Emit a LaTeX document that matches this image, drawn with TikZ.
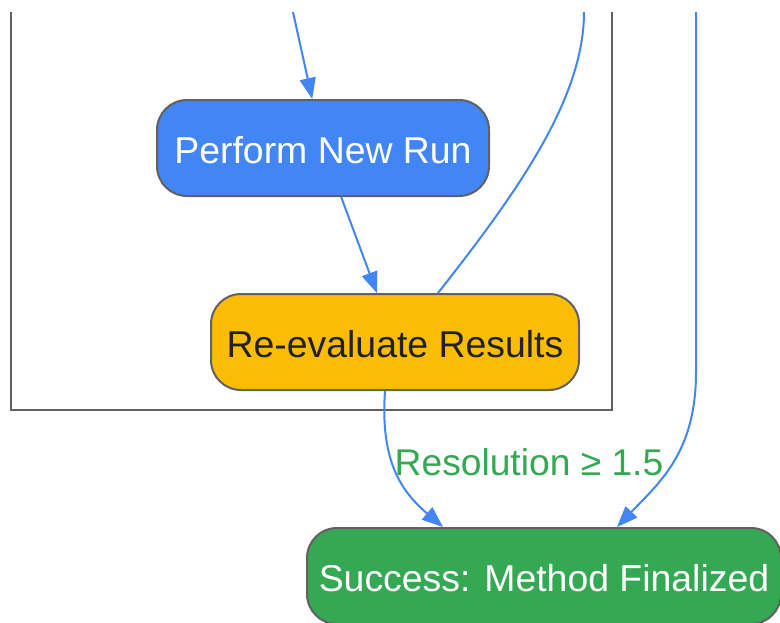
\documentclass[tikz,border=0pt]{standalone}
\usepackage{fontspec}
\setmainfont{Liberation Sans}
\usetikzlibrary{arrows.meta}
\definecolor{gblue}{HTML}{4285F4}
\definecolor{gyellow}{HTML}{FBBC05}
\definecolor{ggreen}{HTML}{34A853}
\definecolor{gborder}{HTML}{616161}
\definecolor{gtext}{HTML}{212121}
\tikzset{
  box/.style={draw=gborder, line width=2pt, rounded corners=30pt,
    minimum height=96pt, inner sep=0pt, text height=30.8pt, text depth=0pt,
    font=\fontsize{37.4}{42}\selectfont},
  edge/.style={draw=gblue, line width=2pt},
  arr/.style={edge, -{Triangle[length=21pt,width=16pt]}},
  cluster/.style={draw=gborder, line width=2pt},
  lbl/.style={text=ggreen, font=\fontsize{37.2}{42}\selectfont, inner sep=0pt}
}
\begin{document}
\begin{tikzpicture}[x=1pt,y=-1pt]
\useasboundingbox (0,0) rectangle (780,622);
\clip (0,0) rectangle (780,622);
\fill[white] (0,0) rectangle (780,622);
% cluster (top edge is out of view)
\draw[cluster] (11,12) -- (11,410) -- (612,410) -- (612,12);
% nodes
\node[box, fill=gblue, text=white, minimum width=332pt] (perf) at (323,148) {Perform New Run};
\node[box, fill=gyellow, text=gtext, minimum width=368pt] (reval) at (395,342) {Re-evaluate Results};
\node[box, fill=ggreen, text=white, minimum width=474pt] (succ) at (544,576) {Success: Method Finalized};
% free ends
\coordinate (t1) at (293,12);
\coordinate (t2) at (584,12);
\coordinate (t3) at (696,12);
\coordinate (t3b) at (696,372);
% connectors
\draw[arr] (t1) -- (perf);
\draw[arr] (perf) -- (reval);
\draw[edge] ([xshift=43pt]reval.north) .. controls (515,195) and (584,100) .. (t2);
\draw[arr] ([xshift=-10pt]reval.south) .. controls (380,462) and (402,492) .. ([xshift=-101pt]succ.north);
\draw[arr] (t3) -- (t3b) .. controls (696,452) and (660,482) .. ([xshift=73pt]succ.north);
% label
\node[lbl] (lab) at (529,462) {Resolution ≥ 1.5};
\end{tikzpicture}
\end{document}
